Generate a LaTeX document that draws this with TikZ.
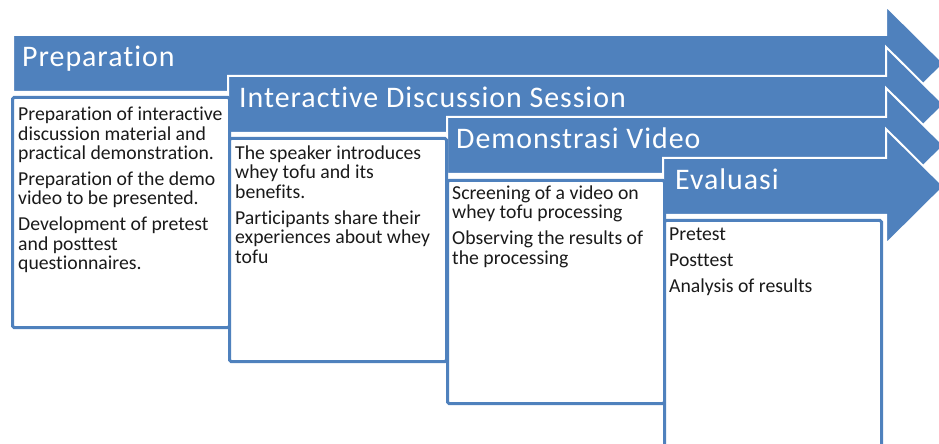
\documentclass[tikz,border=0pt]{standalone}
\usepackage{fontspec}
\setmainfont[Ligatures=NoCommon]{Carlito}
\newfontfamily\ttlfont[LetterSpace=3.3,Ligatures=NoCommon]{Carlito}
\usetikzlibrary{positioning}
\definecolor{stgBlue}{HTML}{4F81BD}
\definecolor{stgInk}{HTML}{1A1A1A}
\tikzset{
  bar/.style={fill=stgBlue, draw=white, line width=2bp, line join=miter},
  panel/.style={draw=stgBlue, line width=3bp, fill=white, rounded corners=1.5bp,
              inner sep=0pt, anchor=north west, minimum width=217bp},
  ttl/.style={anchor=base west, inner sep=0pt, text=white,
              font=\ttlfont\fontsize{30}{36}\selectfont},
  body/.style={anchor=north west, inner sep=0pt, align=left, text=stgInk,
              font=\fontsize{19.8}{19.5}\selectfont},
}

\begin{document}
\begin{tikzpicture}[x=1bp,y=-1bp]
  \clip (0,0) rectangle (939,444);
  % staggered arrow bars, later ones on top
  \foreach \k/\bx/\by in {1/13/35,2/228/76,3/447/117,4/663/158}{
    \path[bar] (\bx,\by) -- (886,\by) -- (886,\by-29) -- (944,\by+28.5)
      -- (886,\by+86) -- (886,\by+57) -- (\bx,\by+57) -- cycle;
  }
  \node[ttl] (t1) at (22,67)  {Preparation};
  \node[ttl] (t2) at (239,108) {Interactive Discussion Session};
  \node[ttl] (t3) at (456,149) {Demonstrasi Video};
  \node[ttl] (t4) at (675,190) {Evaluasi};
  % white panels under the bars
  \foreach \k/\px/\py/\ph in {1/11/96/230,2/228/137/223,3/446/179/223,4/663/219/235}{
    \node[panel, minimum height=\ph bp] (p\k) at (\px,\py) {};
  }
  % first line tops sit about 13.5bp above the baseline
  \node[body] (b1) at (18,107) {Preparation of interactive\\discussion material and\\
    practical demonstration.\\[6.5bp]Preparation of the demo\\video to be presented.\\[6.5bp]
    Development of pretest\\and posttest\\questionnaires.};
  \node[body] (b2) at (235,145.5) {The speaker introduces\\whey tofu and its\\benefits.\\[6.5bp]
    Participants share their\\experiences about whey\\tofu};
  \node[body] (b3) at (452,185.5) {Screening of a video on\\whey tofu processing\\[6.5bp]
    Observing the results of\\the processing};
  \node[body] (b4) at (669,228) {Pretest\\[6.5bp]Posttest\\[6.5bp]Analysis of results};
\end{tikzpicture}
\end{document}
